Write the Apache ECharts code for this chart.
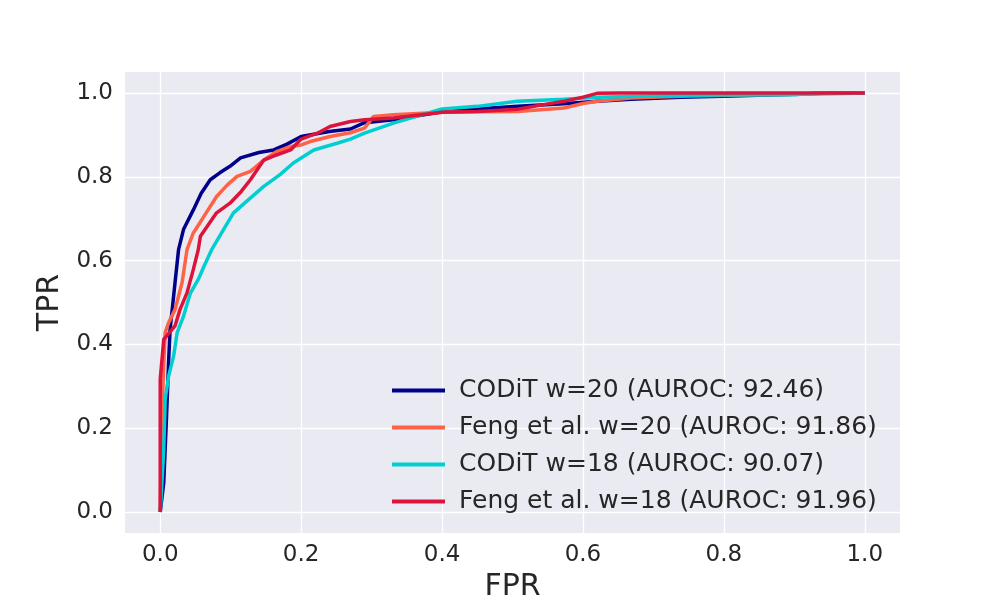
<!DOCTYPE html>
<html>
<head>
<meta charset="utf-8">
<script src="https://cdn.jsdelivr.net/npm/echarts@6/dist/echarts.min.js"></script>
<style>
  html, body { margin: 0; padding: 0; background: #fff; }
  #chart { width: 1000px; height: 600px; }
</style>
</head>
<body>
<div id="chart"></div>
<script>
// ROC 曲线数据 [FPR, TPR]
const seriesNames = [
  'CODiT w=20 (AUROC: 92.46)',
  'Feng et al. w=20 (AUROC: 91.86)',
  'CODiT w=18 (AUROC: 90.07)',
  'Feng et al. w=18 (AUROC: 91.96)'
]
const seriesColors = ['#00008B', '#FF6347', '#00CED1', '#DC143C']

const coditW20 = [
  [0, 0], [0.005, 0.07], [0.009, 0.23], [0.012, 0.364], [0.014, 0.436], [0.017, 0.483],
  [0.021, 0.547], [0.026, 0.626], [0.033, 0.674], [0.047, 0.721], [0.058, 0.76],
  [0.071, 0.793], [0.085, 0.81], [0.099, 0.825], [0.114, 0.845], [0.14, 0.858],
  [0.161, 0.864], [0.18, 0.878], [0.2, 0.896], [0.24, 0.908], [0.27, 0.914],
  [0.29, 0.929], [0.331, 0.936], [0.4, 0.955], [0.45, 0.962], [0.507, 0.968],
  [0.573, 0.974], [0.62, 0.98], [0.668, 0.985], [0.739, 0.99], [0.81, 0.993],
  [0.9, 0.997], [0.95, 1], [1, 1]
]
const fengW20 = [
  [0, 0], [0.002, 0.2], [0.004, 0.309], [0.007, 0.428], [0.012, 0.452], [0.021, 0.483],
  [0.031, 0.547], [0.038, 0.626], [0.047, 0.666], [0.06, 0.7], [0.08, 0.753],
  [0.095, 0.78], [0.109, 0.801], [0.128, 0.813], [0.147, 0.84], [0.165, 0.86],
  [0.185, 0.872], [0.2, 0.876], [0.213, 0.884], [0.241, 0.896], [0.27, 0.905],
  [0.29, 0.916], [0.303, 0.944], [0.331, 0.948], [0.4, 0.954], [0.45, 0.955],
  [0.507, 0.956], [0.573, 0.964], [0.6, 0.975], [0.62, 0.98], [0.668, 0.988],
  [0.75, 0.993], [0.85, 0.996], [0.95, 0.998], [1, 1]
]
const coditW18 = [
  [0, 0], [0.005, 0.15], [0.007, 0.269], [0.012, 0.325], [0.019, 0.372], [0.024, 0.428],
  [0.033, 0.467], [0.043, 0.523], [0.054, 0.555], [0.062, 0.586], [0.073, 0.626],
  [0.085, 0.66], [0.104, 0.714], [0.125, 0.745], [0.147, 0.777], [0.17, 0.805],
  [0.189, 0.833], [0.2, 0.845], [0.218, 0.864], [0.251, 0.88], [0.27, 0.89],
  [0.29, 0.904], [0.331, 0.928], [0.4, 0.962], [0.45, 0.968], [0.507, 0.98],
  [0.573, 0.985], [0.62, 0.99], [0.7, 0.993], [0.8, 0.995], [0.904, 0.996],
  [0.93, 1], [1, 1]
]
const fengW18 = [
  [0, 0], [0, 0.317], [0.005, 0.412], [0.009, 0.42], [0.021, 0.444], [0.028, 0.483],
  [0.038, 0.523], [0.047, 0.579], [0.054, 0.626], [0.057, 0.658], [0.08, 0.714],
  [0.099, 0.737], [0.115, 0.765], [0.128, 0.793], [0.147, 0.84], [0.165, 0.852],
  [0.185, 0.864], [0.2, 0.89], [0.223, 0.904], [0.241, 0.92], [0.27, 0.932],
  [0.29, 0.936], [0.331, 0.94], [0.4, 0.954], [0.45, 0.956], [0.507, 0.961],
  [0.54, 0.971], [0.573, 0.98], [0.6, 0.99], [0.62, 0.999], [0.65, 1], [1, 1]
]
const allCurves = [coditW20, fengW20, coditW18, fengW18]

// 刻度
const xTicks = [0, 0.2, 0.4, 0.6, 0.8, 1.0]
const yTicks = [0, 0.2, 0.4, 0.6, 0.8, 1.0]

const textColor = '#262626'
const font = 'DejaVu Sans'

const myChart = echarts.init(document.getElementById('chart'))

const option = {
  animation: false,
  grid: {
    left: 125,
    right: 100,
    top: 72,
    bottom: 67,
    outerBoundsMode: 'none', // 不让坐标轴名字挤压绘图区
    show: true,
    backgroundColor: '#EAEAF2',
    borderWidth: 0
  },
  legend: {
    orient: 'vertical',
    left: 387,
    top: 373,
    icon: 'rect',
    itemWidth: 53,
    itemHeight: 4,
    itemGap: 12,
    data: seriesNames,
    textStyle: {
      fontFamily: font,
      fontSize: 25,
      lineHeight: 25,
      color: textColor,
      padding: [0, 0, 0, 9]
    }
  },
  xAxis: {
    type: 'value',
    min: -0.05,
    max: 1.05,
    name: 'FPR',
    nameLocation: 'middle',
    nameGap: 36,
    nameTextStyle: { fontFamily: font, fontSize: 30, color: textColor },
    axisLine: { show: false },
    axisTick: { show: false, customValues: xTicks },
    axisLabel: {
      customValues: xTicks,
      margin: 11,
      fontFamily: font,
      fontSize: 23,
      color: textColor,
      formatter: v => v.toFixed(1)
    },
    splitLine: { show: true, lineStyle: { color: '#ffffff', width: 1.3 } }
  },
  yAxis: {
    type: 'value',
    min: -0.05,
    max: 1.05,
    name: 'TPR',
    nameLocation: 'middle',
    nameGap: 58,
    nameTextStyle: { fontFamily: font, fontSize: 30, color: textColor },
    axisLine: { show: false },
    axisTick: { show: false, customValues: yTicks },
    axisLabel: {
      customValues: yTicks,
      margin: 12,
      fontFamily: font,
      fontSize: 23,
      color: textColor,
      formatter: v => v.toFixed(1)
    },
    splitLine: { show: true, lineStyle: { color: '#ffffff', width: 1.3 } }
  },
  series: allCurves.map((curve, i) => ({
    name: seriesNames[i],
    type: 'line',
    data: curve,
    showSymbol: false,
    color: seriesColors[i],
    lineStyle: { width: 3.5, color: seriesColors[i] }
  }))
}
myChart.setOption(option)
</script>
</body>
</html>
